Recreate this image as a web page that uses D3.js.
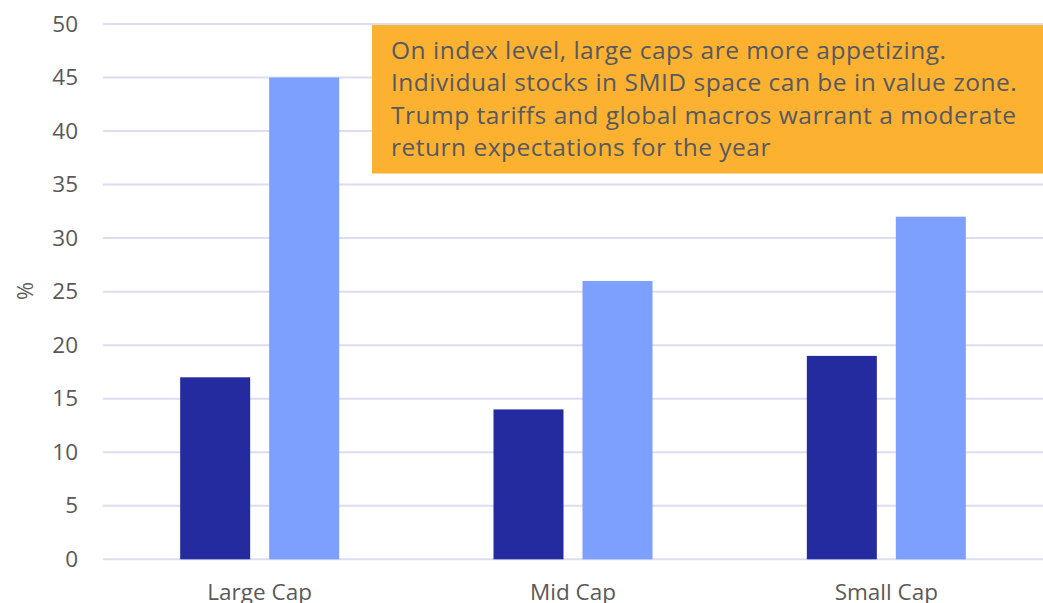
<!DOCTYPE html>
<html>
<head>
<meta charset="utf-8">
<script src="https://cdn.jsdelivr.net/npm/d3@7"></script>
<style>
  html, body { margin: 0; padding: 0; background: #ffffff; }
  svg { display: block; }
</style>
</head>
<body>
<div id="chart"></div>
<script>
// Categories and the two series plotted per category (%)
const categories = ["Large Cap", "Mid Cap", "Small Cap"];
const seriesA = [17, 14, 19];
const seriesB = [45, 26, 32];
const yTicks = [0, 5, 10, 15, 20, 25, 30, 35, 40, 45, 50];
const noteLines = [
  "On index level, large caps are more appetizing.",
  "Individual stocks in SMID space can be in value zone.",
  "Trump tariffs and global macros warrant a moderate",
  "return expectations for the year"
];

const W = 1043, H = 603;
const margin = { top: 24, right: 0, bottom: 44, left: 103 };
const FONT = "'Open Sans', 'Noto Sans', sans-serif";

const svg = d3.select("#chart").append("svg")
  .attr("width", W).attr("height", H);

const x = d3.scaleBand().domain(categories)
  .range([margin.left, W - margin.right]).padding(0);
const y = d3.scaleLinear().domain([0, 50])
  .range([559.3, margin.top]);

const barW = 70, gap = 19;

// Horizontal gridlines
svg.append("g").selectAll("line").data(yTicks).join("line")
  .attr("x1", margin.left).attr("x2", W)
  .attr("y1", d => y(d)).attr("y2", d => y(d))
  .attr("stroke", "#dcdcf3").attr("stroke-width", 2);

// Y axis labels
const yAxis = d3.axisLeft(y).tickValues(yTicks).tickSize(0).tickPadding(0);
const gy = svg.append("g").attr("transform", `translate(78,0)`).call(yAxis);
gy.select(".domain").remove();
gy.selectAll("text")
  .attr("font-family", FONT)
  .attr("font-size", 22.5).attr("fill", "#595959");

// Y axis title
svg.append("text")
  .attr("transform", "translate(24,291) rotate(-90)")
  .attr("text-anchor", "middle").attr("dominant-baseline", "central")
  .attr("font-family", FONT)
  .attr("font-size", 22).attr("fill", "#595959")
  .text("%");

// Bars
const bars = svg.append("g");
bars.selectAll("rect.a").data(categories).join("rect").attr("class", "a")
  .attr("x", (d) => x(d) + x.bandwidth() / 2 - gap / 2 - barW)
  .attr("width", barW)
  .attr("y", (d, i) => y(seriesA[i]))
  .attr("height", (d, i) => y(0) - y(seriesA[i]))
  .attr("fill", "#232b9e");
bars.selectAll("rect.b").data(categories).join("rect").attr("class", "b")
  .attr("x", (d) => x(d) + x.bandwidth() / 2 + gap / 2)
  .attr("width", barW)
  .attr("y", (d, i) => y(seriesB[i]))
  .attr("height", (d, i) => y(0) - y(seriesB[i]))
  .attr("fill", "#7da0ff");

// X axis labels (run off the bottom edge, as in the original layout)
const xAxis = d3.axisBottom(x).tickSize(0).tickPadding(0);
const gx = svg.append("g").attr("transform", `translate(0,583)`).call(xAxis);
gx.select(".domain").remove();
gx.selectAll("text")
  .attr("dy", "0.75em")
  .attr("font-family", FONT)
  .attr("font-size", 22.5).attr("fill", "#595959");

// Annotation box
const note = svg.append("g");
note.append("rect")
  .attr("x", 372).attr("y", 25).attr("width", W - 372).attr("height", 148.5)
  .attr("fill", "#fdb130");
note.selectAll("text").data(noteLines).join("text")
  .attr("x", 391)
  .attr("y", (d, i) => 59 + i * 32.3)
  .attr("font-family", FONT)
  .attr("font-size", 24.5).attr("letter-spacing", 0.5)
  .attr("fill", "#555a62")
  .text(d => d);
</script>
</body>
</html>
